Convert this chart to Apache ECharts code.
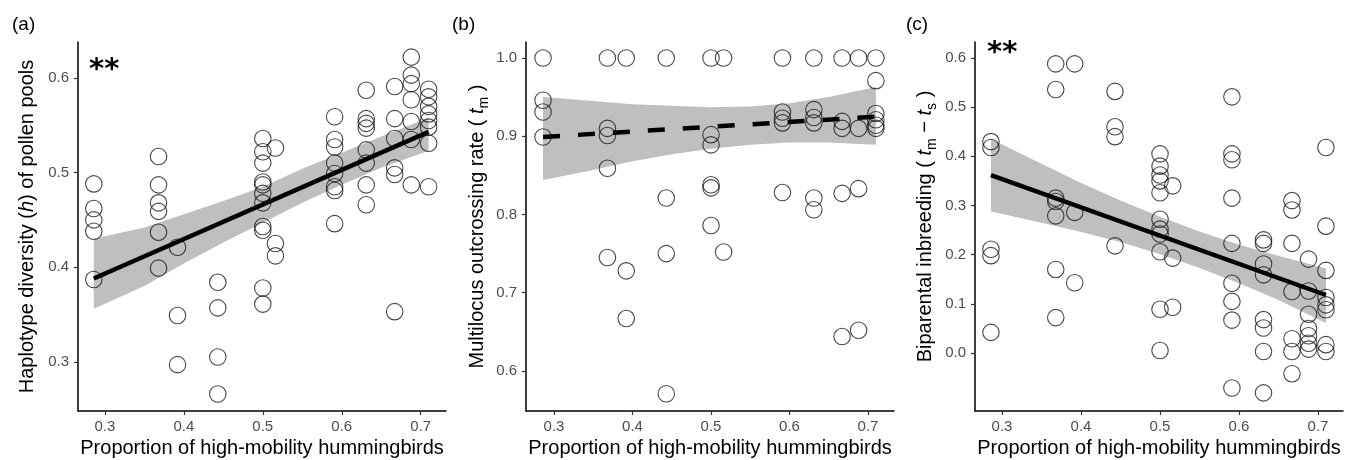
<!DOCTYPE html>
<html>
<head>
<meta charset="utf-8">
<script src="https://cdn.jsdelivr.net/npm/echarts@6/dist/echarts.min.js"></script>
<style>
  html, body { margin: 0; padding: 0; background: #fff; }
  #chart { width: 1360px; height: 460px; }
</style>
</head>
<body>
<div id="chart"></div>
<script>
// proportion of high-mobility hummingbirds at each site (x columns)
const propLevels = [0.286, 0.368, 0.392, 0.443, 0.5, 0.516, 0.591, 0.631, 0.667, 0.688, 0.71];

// (a) haplotype diversity, one list per x column
const hapDiv = [
  [0.488, 0.462, 0.450, 0.438, 0.387],
  [0.517, 0.487, 0.468, 0.459, 0.437, 0.399],
  [0.421, 0.349, 0.297],
  [0.384, 0.357, 0.305, 0.266],
  [0.536, 0.522, 0.510, 0.490, 0.487, 0.478, 0.468, 0.443, 0.439, 0.378, 0.361],
  [0.526, 0.425, 0.412],
  [0.559, 0.535, 0.527, 0.510, 0.499, 0.485, 0.481, 0.446],
  [0.587, 0.557, 0.552, 0.547, 0.524, 0.510, 0.487, 0.466],
  [0.591, 0.557, 0.536, 0.505, 0.498, 0.353],
  [0.622, 0.603, 0.594, 0.577, 0.554, 0.535, 0.487],
  [0.588, 0.580, 0.570, 0.562, 0.555, 0.548, 0.531, 0.485]
];

// (b) multilocus outcrossing rate
const outcross = [
  [1.0, 0.946, 0.931, 0.899],
  [1.0, 0.910, 0.901, 0.859, 0.745],
  [1.0, 0.728, 0.667],
  [1.0, 0.821, 0.750, 0.571],
  [1.0, 0.902, 0.889, 0.838, 0.834, 0.786],
  [1.0, 0.752],
  [1.0, 0.931, 0.923, 0.917, 0.828],
  [1.0, 0.934, 0.924, 0.917, 0.821, 0.806],
  [1.0, 0.919, 0.910, 0.827, 0.644],
  [1.0, 0.910, 0.833, 0.652],
  [1.0, 0.971, 0.929, 0.921, 0.914, 0.910]
];

// (c) biparental inbreeding
const biparental = [
  [0.430, 0.418, 0.211, 0.198, 0.042],
  [0.588, 0.536, 0.315, 0.308, 0.279, 0.170, 0.072],
  [0.588, 0.286, 0.143],
  [0.532, 0.460, 0.440, 0.218],
  [0.405, 0.380, 0.362, 0.350, 0.326, 0.272, 0.252, 0.242, 0.206, 0.089, 0.005],
  [0.340, 0.193, 0.093],
  [0.521, 0.405, 0.393, 0.315, 0.223, 0.142, 0.105, 0.067, -0.071],
  [0.230, 0.223, 0.181, 0.159, 0.068, 0.051, 0.003, -0.081],
  [0.310, 0.291, 0.223, 0.125, 0.029, 0.003, -0.042],
  [0.191, 0.126, 0.079, 0.050, 0.035, 0.020, 0.008],
  [0.418, 0.258, 0.168, 0.113, 0.098, 0.088, 0.017, 0.003]
];

// fitted lines (end points) and confidence bands
const fitX = [0.286, 0.71];
const fitA = [0.388, 0.543];
const fitB = [0.899, 0.925];
const fitC = [0.362, 0.118];

const bandX = [0.286, 0.35, 0.40, 0.45, 0.50, 0.55, 0.60, 0.65, 0.71];
const bandAHi = [0.430, 0.442, 0.456, 0.470, 0.485, 0.504, 0.521, 0.538, 0.558];
const bandALo = [0.356, 0.380, 0.404, 0.426, 0.447, 0.468, 0.487, 0.505, 0.523];
const bandBHi = [0.950, 0.945, 0.941, 0.939, 0.937, 0.938, 0.942, 0.950, 0.963];
const bandBLo = [0.844, 0.857, 0.868, 0.877, 0.884, 0.889, 0.892, 0.892, 0.889];
const bandCHi = [0.435, 0.385, 0.346, 0.310, 0.277, 0.247, 0.220, 0.198, 0.172];
const bandCLo = [0.288, 0.265, 0.246, 0.226, 0.201, 0.173, 0.142, 0.108, 0.061];

// tick labels
const xTicks = [0.3, 0.4, 0.5, 0.6, 0.7];
const yTicksA = [0.3, 0.4, 0.5, 0.6];
const yTicksB = [0.6, 0.7, 0.8, 0.9, 1.0];
const yTicksC = [0.0, 0.1, 0.2, 0.3, 0.4, 0.5, 0.6];

const FONT = '"Liberation Sans", Arial, Helvetica, sans-serif';

function points(levels, cols) {
  let out = [];
  levels.forEach((x, i) => {
    cols[i].forEach((y) => out.push([x, y]));
  });
  return out;
}

function xAx(i, min, max) {
  return {
    gridIndex: i,
    type: "value",
    min: min,
    max: max,
    name: "Proportion of high-mobility hummingbirds",
    nameLocation: "middle",
    nameGap: 26,
    nameTextStyle: { fontSize: 20, color: "#000", fontFamily: FONT },
    axisLine: { show: true, onZero: false, lineStyle: { color: "#000", width: 1.5 } },
    axisTick: { show: true, length: 4, customValues: xTicks, lineStyle: { color: "#333", width: 1.2 } },
    axisLabel: {
      customValues: xTicks,
      formatter: (v) => Number(v).toFixed(1),
      fontSize: 15,
      color: "#4d4d4d",
      fontFamily: FONT,
      margin: 8,
    },
    splitLine: { show: false },
  };
}

function yAx(i, min, max, ticks, name, gap) {
  return {
    gridIndex: i,
    type: "value",
    min: min,
    max: max,
    name: name,
    nameLocation: "middle",
    nameGap: gap,
    nameTextStyle: {
      fontSize: 20,
      color: "#000",
      fontFamily: FONT,
      lineHeight: 28,
      rich: {
        i: { fontSize: 20, fontStyle: "italic", fontFamily: FONT, color: "#000", lineHeight: 28 },
        sub: { fontSize: 14, fontFamily: FONT, color: "#000", lineHeight: 14, verticalAlign: "bottom" },
      },
    },
    axisLine: { show: true, onZero: false, lineStyle: { color: "#000", width: 1.5 } },
    axisTick: { show: true, length: 4, customValues: ticks, lineStyle: { color: "#333", width: 1.2 } },
    axisLabel: {
      customValues: ticks,
      formatter: (v) => Number(v).toFixed(1),
      fontSize: 15,
      color: "#4d4d4d",
      fontFamily: FONT,
      margin: 9,
    },
    splitLine: { show: false },
  };
}

function band(i, hi, lo) {
  return {
    type: "custom",
    xAxisIndex: i,
    yAxisIndex: i,
    data: [[bandX[0], lo[0]]],
    silent: true,
    z: 1,
    renderItem: function (params, api) {
      let up = bandX.map((x, k) => api.coord([x, hi[k]]));
      let dn = bandX.map((x, k) => api.coord([x, lo[k]])).reverse();
      return { type: "polygon", shape: { points: up.concat(dn) }, style: { fill: "#bfbfbf" } };
    },
  };
}

function dots(i, cols) {
  return {
    type: "scatter",
    xAxisIndex: i,
    yAxisIndex: i,
    data: points(propLevels, cols),
    symbol: "circle",
    symbolSize: 16.5,
    silent: true,
    z: 3,
    itemStyle: { color: "rgba(0,0,0,0)", borderColor: "#1a1a1a", borderWidth: 1.1 },
  };
}

function fit(i, ys, dashed) {
  return {
    type: "line",
    xAxisIndex: i,
    yAxisIndex: i,
    data: fitX.map((x, k) => [x, ys[k]]),
    symbol: "none",
    silent: true,
    z: 4,
    lineStyle: { color: "#000", width: 4.5, type: dashed ? [17, 18] : "solid", cap: "butt" },
  };
}

let chartDom = document.getElementById("chart");
let myChart = echarts.init(chartDom, null, { renderer: "canvas" });

const STARS = 'bold 29px "DejaVu Sans", sans-serif';

let option = {
  animation: false,
  backgroundColor: "#fff",
  textStyle: { fontFamily: FONT },
  grid: [
    { left: 78, right: 914, top: 42, bottom: 49, outerBoundsMode: "none" },
    { left: 526, right: 466, top: 42, bottom: 49, outerBoundsMode: "none" },
    { left: 975, right: 17, top: 42, bottom: 49, outerBoundsMode: "none" },
  ],
  xAxis: [xAx(0, 0.266, 0.732), xAx(1, 0.2643, 0.7331), xAx(2, 0.2658, 0.7316)],
  yAxis: [
    yAx(0, 0.248, 0.638, yTicksA, "Haplotype diversity ({i|h}) of pollen pools", 37),
    yAx(1, 0.5489, 1.0204, yTicksB, "Multilocus outcrossing rate ( {i|t}{sub|m} )", 35),
    yAx(2, -0.1179, 0.6325, yTicksC, "Biparental inbreeding ( {i|t}{sub|m} \u2212 {i|t}{sub|s} )", 36),
  ],
  graphic: [
    { type: "text", left: 12, top: 15, style: { text: "(a)", font: "19px " + FONT, fill: "#000" } },
    { type: "text", left: 452, top: 15, style: { text: "(b)", font: "19px " + FONT, fill: "#000" } },
    { type: "text", left: 906, top: 15, style: { text: "(c)", font: "19px " + FONT, fill: "#000" } },
    { type: "text", left: 89, top: 56, style: { text: "**", font: STARS, fill: "#000" } },
    { type: "text", left: 987, top: 39, style: { text: "**", font: STARS, fill: "#000" } },
  ],
  series: [
    band(0, bandAHi, bandALo),
    dots(0, hapDiv),
    fit(0, fitA, false),
    band(1, bandBHi, bandBLo),
    dots(1, outcross),
    fit(1, fitB, true),
    band(2, bandCHi, bandCLo),
    dots(2, biparental),
    fit(2, fitC, false),
  ],
};

option && myChart.setOption(option);
</script>
</body>
</html>
